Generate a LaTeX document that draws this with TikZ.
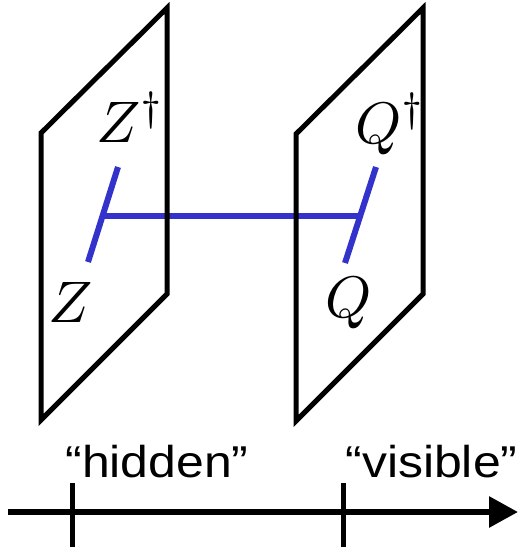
\documentclass[tikz,border=0pt]{standalone}
\usepackage{graphicx}
\usepackage{fontspec}
\newfontfamily\labelfont[FakeStretch=1.12]{Liberation Sans}
\usetikzlibrary{arrows.meta}
\definecolor{wire}{RGB}{51,51,204}
\newcommand{\plsym}[1]{\scalebox{2.93}{$#1$}}

\begin{document}
\begin{tikzpicture}[
  x=0.5pt, y=-0.5pt,
  plane/.style={draw=black, line width=2.5pt, line join=miter},
  bar/.style={draw=wire, line width=3pt},
  axis/.style={draw=black, line width=3pt},
  tick/.style={draw=black, line width=2.5pt},
  sym/.style={inner sep=0pt, anchor=base west},
  lab/.style={inner sep=0pt, anchor=base west, font=\labelfont\fontsize{22.3}{25}\selectfont}
]
\useasboundingbox (0,0) rectangle (520,547);

% ---------------- blue bars ----------------
\coordinate (zt) at (118,167);
\coordinate (zb) at (88,262);
\coordinate (zj) at (103,216);
\coordinate (qt) at (376,167);
\coordinate (qb) at (345,263);
\coordinate (qj) at (360,216);
\draw[bar] (zt) -- (zb);
\draw[bar] (qt) -- (qb);
\draw[bar] (zj) -- (qj);

% ---------------- planes ----------------
\draw[plane] (41,133) -- (167,8) -- (167,294) -- (41,420) -- cycle;
\draw[plane] (296,134) -- (423,8) -- (423,294) -- (296,421) -- cycle;

% ---------------- labels ----------------
\node[sym] (zdag) at (96,142) {\plsym{Z^{\dagger}}};
\node[sym] (zlow) at (48,322) {\plsym{Z}};
\node[sym] (qdag) at (355,143) {\plsym{Q^{\dagger}}};
\node[sym] (qlow) at (325,317) {\plsym{Q}};

% ---------------- axis ----------------
\coordinate (ax0) at (8,512);
\coordinate (ax1) at (518,512);
\draw[axis, -{Triangle[length=14.5pt, width=15pt]}] (ax0) -- (ax1);
\coordinate (t1a) at (72,483);
\coordinate (t1b) at (72,547);
\coordinate (t2a) at (343,483);
\coordinate (t2b) at (343,547);
\draw[tick] (t1a) -- (t1b);
\draw[tick] (t2a) -- (t2b);
\node[lab] (hid) at (65,477) {“hidden”};
\node[lab] (vis) at (345,477) {“visible”};

\end{tikzpicture}
\end{document}
